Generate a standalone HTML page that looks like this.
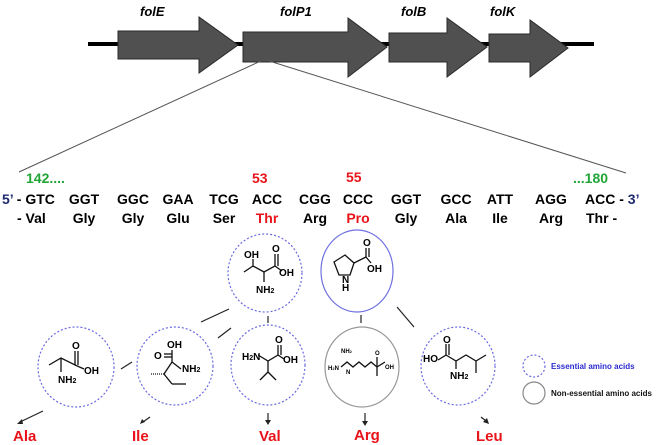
<!DOCTYPE html>
<html><head><meta charset="utf-8"><style>
html,body{margin:0;padding:0;background:#fff;}
svg{display:block;}
.g{font-family:"Liberation Sans",sans-serif;font-weight:bold;font-style:italic;font-size:13px;fill:#000;}
.t{font-family:"Liberation Sans",sans-serif;font-weight:bold;font-size:14px;fill:#000;}
.m{font-family:"Liberation Sans",sans-serif;font-weight:bold;font-size:10px;fill:#000;}
.r{fill:#e8141a;}
.gr{fill:#22a638;}
.b{fill:#1f2a6e;}
.aa{font-family:"Liberation Sans",sans-serif;font-weight:bold;font-size:15px;fill:#e8141a;}
</style></head><body>
<svg width="666" height="445" viewBox="0 0 666 445" xmlns="http://www.w3.org/2000/svg">
<line x1="88" y1="44" x2="594" y2="44" stroke="#000" stroke-width="4"/>
<g fill="#505050" stroke="#2a2a2a" stroke-width="1">
<polygon points="118,31 199,31 199,17 238,45 199,73 199,59 118,59"/>
<polygon points="243,32 348,32 348,18 387,47 348,77 348,62 243,62"/>
<polygon points="389,33 447,33 447,18 487,47 447,77 447,62 389,62"/>
<polygon points="489,34 530,34 530,20 568,48 530,77 530,62 489,62"/>
</g>
<text class="g" x="140" y="16">folE</text>
<text class="g" x="280" y="16">folP1</text>
<text class="g" x="401" y="16">folB</text>
<text class="g" x="490" y="16">folK</text>
<line x1="263" y1="60" x2="19" y2="172" stroke="#555" stroke-width="1"/>
<line x1="266" y1="60" x2="626" y2="173" stroke="#555" stroke-width="1"/>
<text class="t gr" x="26" y="183">142....</text>
<text class="t r" x="252" y="183">53</text>
<text class="t r" x="346" y="182">55</text>
<text class="t gr" x="573" y="183">...180</text>
<g class="t">
<text x="2" y="204"><tspan class="b">5’</tspan> - GTC</text>
<text x="84" y="204" text-anchor="middle">GGT</text>
<text x="133" y="204" text-anchor="middle">GGC</text>
<text x="178" y="204" text-anchor="middle">GAA</text>
<text x="224" y="204" text-anchor="middle">TCG</text>
<text x="267" y="204" text-anchor="middle">ACC</text>
<text x="315" y="204" text-anchor="middle">CGG</text>
<text x="358" y="204" text-anchor="middle">CCC</text>
<text x="406" y="204" text-anchor="middle">GGT</text>
<text x="456" y="204" text-anchor="middle">GCC</text>
<text x="500" y="204" text-anchor="middle">ATT</text>
<text x="551" y="204" text-anchor="middle">AGG</text>
<text x="585" y="204">ACC - <tspan class="b">3’</tspan></text>
</g>
<g class="t">
<text x="17" y="223">- Val</text>
<text x="84" y="223" text-anchor="middle">Gly</text>
<text x="133" y="223" text-anchor="middle">Gly</text>
<text x="178" y="223" text-anchor="middle">Glu</text>
<text x="224" y="223" text-anchor="middle">Ser</text>
<text x="267" y="223" text-anchor="middle" class="t r">Thr</text>
<text x="315" y="223" text-anchor="middle">Arg</text>
<text x="358" y="223" text-anchor="middle" class="t r">Pro</text>
<text x="406" y="223" text-anchor="middle">Gly</text>
<text x="456" y="223" text-anchor="middle">Ala</text>
<text x="500" y="223" text-anchor="middle">Ile</text>
<text x="551" y="223" text-anchor="middle">Arg</text>
<text x="586" y="223">Thr -</text>
</g>
<g fill="none" stroke="#6a6ae0" stroke-width="1.2" stroke-dasharray="2,2">
<ellipse cx="265" cy="273" rx="37" ry="39"/>
<ellipse cx="76" cy="367" rx="38" ry="40"/>
<ellipse cx="175" cy="366" rx="38" ry="39"/>
<ellipse cx="268" cy="365" rx="37" ry="40"/>
<ellipse cx="458" cy="366" rx="37" ry="39"/>
<circle cx="534" cy="366" r="11"/>
</g>
<ellipse cx="357" cy="271" rx="36" ry="41" fill="none" stroke="#7070e0" stroke-width="1.2"/>
<ellipse cx="362" cy="367" rx="37" ry="40" fill="none" stroke="#999" stroke-width="1.2"/>
<circle cx="534" cy="393" r="11" fill="none" stroke="#888" stroke-width="1.2"/>
<text x="551" y="369" font-family="Liberation Sans,sans-serif" font-weight="bold" font-size="8" fill="#2a2ad0">Essential amino acids</text>
<text x="551" y="396" font-family="Liberation Sans,sans-serif" font-weight="bold" font-size="8" fill="#111">Non-essential amino acids</text>
<g stroke="#222" stroke-width="1.2">
<line x1="201" y1="322" x2="229" y2="309"/>
<line x1="218" y1="338" x2="231" y2="328"/>
<line x1="121" y1="369" x2="132" y2="362"/>
<line x1="268" y1="316" x2="268" y2="323"/>
<line x1="361" y1="315" x2="361" y2="323"/>
<line x1="397" y1="307" x2="414" y2="327"/>
<line x1="43" y1="411" x2="20" y2="422"/>
<line x1="150" y1="417" x2="143" y2="422"/>
<line x1="268" y1="413" x2="268" y2="421"/>
<line x1="365" y1="413" x2="365" y2="422"/>
<line x1="481" y1="417" x2="486" y2="421"/>
</g>
<g fill="#222">
<polygon points="17,424 22,419 23,424"/>
<polygon points="140,424 142,419 145,422"/>
<polygon points="265,420 271,420 268,425"/>
<polygon points="362,421 368,421 365,426"/>
<polygon points="489,424 483,422 487,418"/>
</g>
<text class="aa" x="13" y="441">Ala</text>
<text class="aa" x="132" y="441">Ile</text>
<text class="aa" x="259" y="441">Val</text>
<text class="aa" x="354" y="440">Arg</text>
<text class="aa" x="476" y="441">Leu</text>
<g stroke="#111" stroke-width="1.3" fill="none">
<polyline points="244,272 253,266 264,272 275,266 275,254"/><line x1="278" y1="266" x2="278" y2="254"/>
<line x1="275" y1="266" x2="282" y2="271"/><line x1="253" y1="266" x2="253" y2="259"/><line x1="264" y1="272" x2="264" y2="282"/>
<polygon points="334,262 345,255 354,263 350,275 339,275"/><line x1="354" y1="263" x2="366" y2="257"/>
<line x1="366" y1="257" x2="366" y2="248"/><line x1="369" y1="257" x2="369" y2="248"/><line x1="366" y1="257" x2="371" y2="263"/>
<polyline points="49,365 61,358 75,365 75,351"/><line x1="78" y1="365" x2="78" y2="351"/><line x1="75" y1="365" x2="84" y2="369"/><line x1="61" y1="358" x2="61" y2="372"/>
<line x1="164" y1="354" x2="172" y2="354"/><line x1="164" y1="357" x2="172" y2="357"/><line x1="172" y1="350" x2="172" y2="362"/>
<line x1="172" y1="362" x2="181" y2="369"/><line x1="172" y1="362" x2="164" y2="374"/><line x1="164" y1="374" x2="151" y2="374" stroke-dasharray="1,1"/><line x1="164" y1="374" x2="172" y2="384"/><line x1="172" y1="384" x2="186" y2="384"/>
<polyline points="258,355 268,361 278,355 278,345"/><line x1="281" y1="355" x2="281" y2="345"/><line x1="278" y1="355" x2="284" y2="359"/>
<line x1="268" y1="361" x2="268" y2="372"/><line x1="268" y1="372" x2="260" y2="380"/><line x1="268" y1="372" x2="276" y2="380"/>
<polyline points="341,367 347,362 353,367 359,362 365,367 371,362 377,367"/><line x1="377" y1="367" x2="377" y2="357"/><line x1="377" y1="367" x2="377" y2="376"/><line x1="377" y1="367" x2="385" y2="362"/>
<polyline points="438,360 446,355 446,344"/><line x1="449" y1="355" x2="449" y2="344"/>
<polyline points="446,355 456,361 466,355 476,361"/><line x1="476" y1="361" x2="476" y2="373"/><line x1="476" y1="361" x2="486" y2="355"/><line x1="456" y1="361" x2="456" y2="369"/>
</g>
<g class="m">
<text x="244" y="258">OH</text><text x="272" y="252">O</text><text x="279" y="276">OH</text><text x="256" y="293">NH<tspan font-size="7">2</tspan></text>
<text x="342" y="283">N</text><text x="342" y="291">H</text><text x="363" y="246">O</text><text x="367" y="272">OH</text>
<text x="72" y="349">O</text><text x="84" y="374">OH</text><text x="58" y="383">NH<tspan font-size="7">2</tspan></text>
<text x="167" y="348">OH</text><text x="154" y="359">O</text><text x="182" y="372">NH<tspan font-size="7">2</tspan></text>
<text x="275" y="343">O</text><text x="283" y="363">OH</text><text x="242" y="360">H<tspan font-size="7">2</tspan>N</text>
<text x="341" y="353" font-size="6">NH<tspan font-size="4">2</tspan></text><text x="328" y="370" font-size="6">H<tspan font-size="4">2</tspan>N</text><text x="346" y="374" font-size="6">N</text><text x="375" y="355" font-size="6">O</text><text x="385" y="369" font-size="6">OH</text>
<text x="443" y="343">O</text><text x="423" y="362">HO</text><text x="450" y="379">NH<tspan font-size="7">2</tspan></text>
</g>
</svg>
</body></html>
